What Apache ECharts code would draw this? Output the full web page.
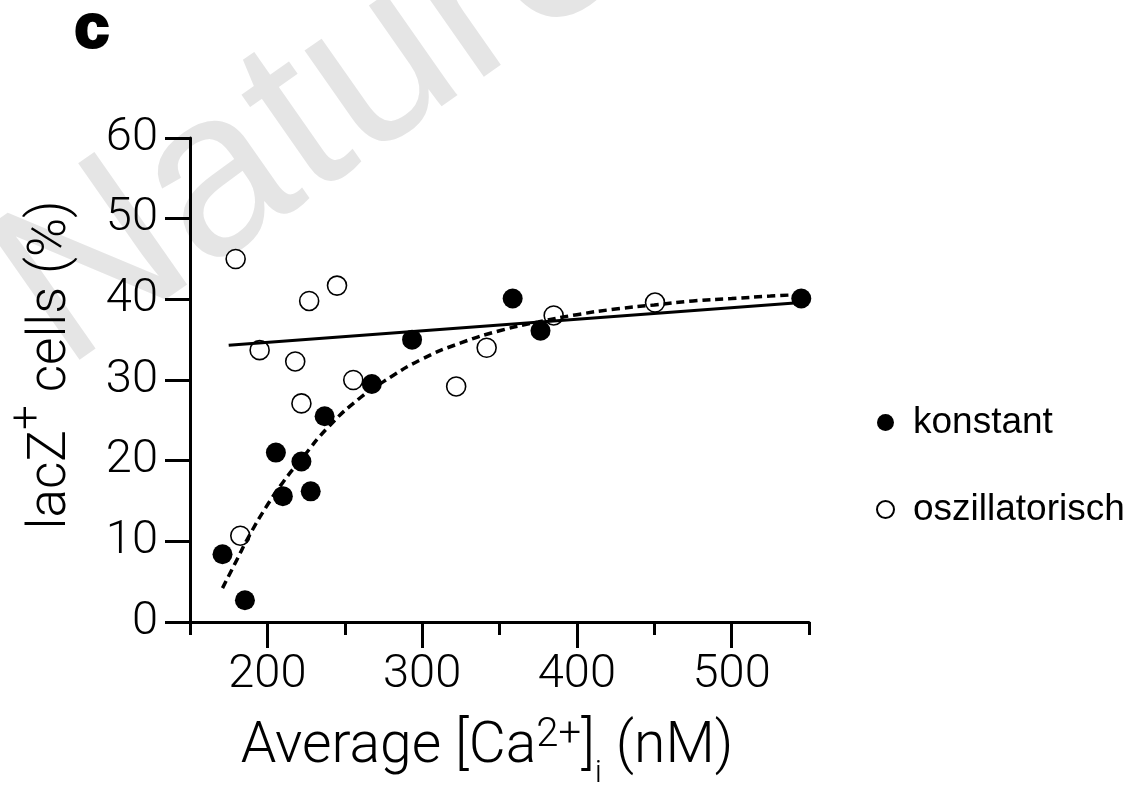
<!DOCTYPE html>
<html>
<head>
<meta charset="utf-8">
<script src="https://cdn.jsdelivr.net/npm/echarts@6/dist/echarts.min.js"></script>
<style>
html,body{margin:0;padding:0;background:#fff;}
#chart{width:1131px;height:785px;}
</style>
</head>
<body>
<div id="chart"></div>
<script>
// ---- data ----
const konstant = [
  [171, 8.4], [185.5, 2.7], [205.5, 21.0], [210, 15.6], [222, 19.9], [228, 16.2],
  [237, 25.5], [267.5, 29.5], [293.5, 35.0], [358.5, 40.1], [376.5, 36.1], [545, 40.1]
];
const oszillatorisch = [
  [179.5, 45.0], [182.5, 10.7], [195, 33.7], [218, 32.3], [222, 27.1], [227, 39.8],
  [245, 41.7], [255.5, 30.0], [322, 29.2], [341.7, 34.0], [385, 38.0], [450.5, 39.6]
];
// straight fit line (end points)
const linearFit = [[175, 34.3], [545, 39.6]];
// dashed saturation curve
const curveFit = [
  [171, 4.2], [180, 7.6], [188, 10.6], [200, 14.5], [210, 17.3], [222, 20.2],
  [240, 24.3], [260, 27.8], [275, 29.8], [300, 32.6], [325, 34.6], [350, 36.1],
  [375, 37.2], [400, 38.1], [425, 38.8], [450, 39.3], [475, 39.8], [500, 40.1],
  [525, 40.4], [545, 40.6]
];
const xMajorTicks = [200, 300, 400, 500];
const seriesNames = ['konstant', 'oszillatorisch'];

const LIGHT = 'Roboto';
const chart = echarts.init(document.getElementById('chart'), null, {renderer: 'canvas'});

const axisLineStyle = {color: '#000', width: 3};
const WM_ANGLE = 35 * Math.PI / 180;
const option = {
  animation: false,
  backgroundColor: '#fff',
  grid: {left: 190, right: 322, top: 138, bottom: 163, containLabel: false, outerBoundsMode: 'none'},
  graphic: [
    {
      type: 'text', x: 94, y: 414, rotation: WM_ANGLE, z: -10, silent: true,
      style: {text: 'Nature', fontSize: 235, fontFamily: 'Liberation Sans', fill: '#e5e5e5', verticalAlign: 'bottom'}
    },
    {
      type: 'text', left: 73, top: -3,
      style: {text: 'c', fontSize: 62, fontWeight: 'bold', fontFamily: 'Liberation Sans', fill: '#000', stroke: '#000', lineWidth: 3}
    }
  ],
  legend: {
    orient: 'vertical', left: 871, top: 399,
    itemWidth: 17, itemHeight: 17, itemGap: 50,
    data: seriesNames,
    textStyle: {fontSize: 37, fontFamily: 'Liberation Sans', color: '#000', padding: [0, 0, 0, 14]}
  },
  xAxis: [
    {
      type: 'value', min: 150, max: 550, interval: 50,
      axisLine: {show: true, onZero: false, lineStyle: axisLineStyle},
      axisTick: {show: true, length: 13, lineStyle: {color: '#000', width: 3}},
      axisLabel: {customValues: xMajorTicks, fontSize: 47, fontFamily: LIGHT, fontWeight: 300, color: '#000', margin: 30},
      splitLine: {show: false},
      name: '{n|Average [Ca}{sup|2+}{n|]}{sub|i}{n| (nM)}',
      nameLocation: 'middle', nameGap: 95,
      nameTextStyle: {
        color: '#000', padding: [0, 25, 0, 0],
        rich: {
          n: {fontSize: 57, lineHeight: 62, fontFamily: LIGHT, fontWeight: 300, color: '#000'},
          sup: {fontSize: 40, height: 38, fontFamily: LIGHT, fontWeight: 300, color: '#000', verticalAlign: 'top'},
          sub: {fontSize: 32, height: 10, fontFamily: LIGHT, fontWeight: 300, color: '#000', verticalAlign: 'bottom'}
        }
      }
    },
    {
      type: 'value', min: 150, max: 550, position: 'bottom',
      axisLine: {show: false},
      axisTick: {show: true, customValues: xMajorTicks, length: 26, lineStyle: {color: '#000', width: 3}},
      axisLabel: {show: false},
      splitLine: {show: false}
    }
  ],
  yAxis: {
    type: 'value', min: 0, max: 60, interval: 10,
    axisLine: {show: true, lineStyle: axisLineStyle},
    axisTick: {show: true, length: 25, lineStyle: {color: '#000', width: 3}},
    axisLabel: {fontSize: 47, fontFamily: LIGHT, fontWeight: 300, color: '#000', margin: 32},
    splitLine: {show: false},
    name: '{n|lacZ}{sup|+}{n| cells (%)}',
    nameLocation: 'middle', nameGap: 112,
    nameTextStyle: {
      color: '#000', padding: [0, 0, 0, 30],
      rich: {
        n: {fontSize: 53, lineHeight: 53, fontFamily: LIGHT, fontWeight: 300, color: '#000'},
        sup: {fontSize: 44, height: 8, fontFamily: LIGHT, fontWeight: 300, color: '#000', verticalAlign: 'top'}
      }
    }
  },
  series: [
    {
      name: 'oszillatorisch', type: 'scatter', data: oszillatorisch, symbol: 'circle', symbolSize: 19, z: 2,
      itemStyle: {color: '#fff', opacity: 1, borderColor: '#000', borderWidth: 1.6}
    },
    {
      name: 'konstant', type: 'scatter', data: konstant, symbol: 'circle', symbolSize: 20, z: 2,
      itemStyle: {color: '#000', opacity: 1}
    },
    {
      name: 'linear', type: 'line', data: linearFit, showSymbol: false, symbol: 'none', z: 3,
      lineStyle: {color: '#000', width: 3}
    },
    {
      name: 'curve', type: 'line', data: curveFit, smooth: true, showSymbol: false, symbol: 'none', z: 3,
      lineStyle: {color: '#000', width: 3.5, type: [8, 5]}
    }
  ]
};
chart.setOption(option);
</script>
</body>
</html>
